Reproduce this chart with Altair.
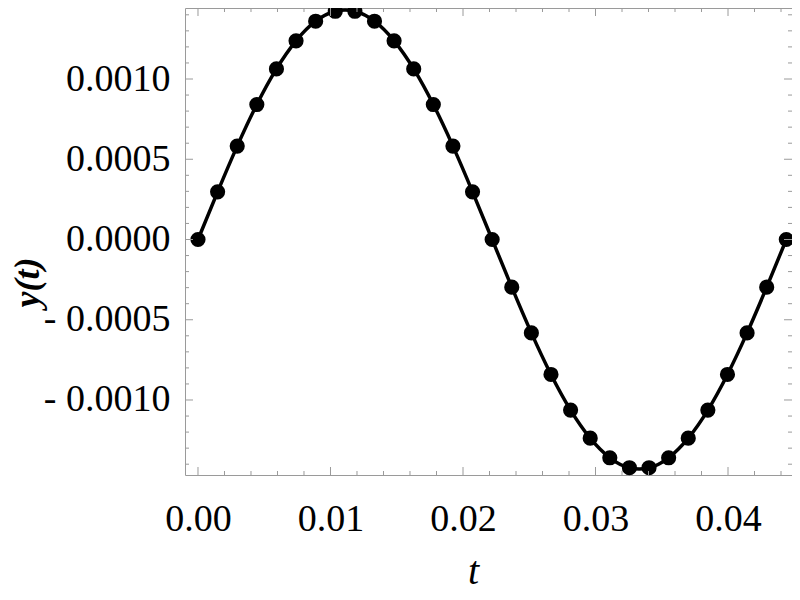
import altair as alt
import pandas as pd

# sampled points of y(t)
t_vals = [0.0, 0.00148, 0.00296, 0.00444, 0.00592, 0.0074, 0.00888, 0.01036,
          0.01184, 0.01332, 0.0148, 0.01628, 0.01776, 0.01924, 0.02072, 0.0222,
          0.02368, 0.02516, 0.02664, 0.02812, 0.0296, 0.03108, 0.03256, 0.03404,
          0.03552, 0.037, 0.03848, 0.03996, 0.04144, 0.04292, 0.0444]
y_vals = [0.0, 0.000297, 0.000582, 0.000841, 0.001063, 0.001238, 0.00136, 0.001422,
          0.001422, 0.00136, 0.001238, 0.001063, 0.000841, 0.000582, 0.000297, 0.0,
          -0.000297, -0.000582, -0.000841, -0.001063, -0.001238, -0.00136, -0.001422,
          -0.001422, -0.00136, -0.001238, -0.001063, -0.000841, -0.000582, -0.000297, 0.0]

x_major = [0.0, 0.01, 0.02, 0.03, 0.04]
x_minor = [0.002, 0.004, 0.006, 0.008, 0.012, 0.014, 0.016, 0.018, 0.022, 0.024,
           0.026, 0.028, 0.032, 0.034, 0.036, 0.038, 0.042, 0.044]
y_major = [-0.001, -0.0005, 0.0, 0.0005, 0.001]
y_minor = [-0.0014, -0.0013, -0.0012, -0.0011, -0.0009, -0.0008, -0.0007, -0.0006,
           -0.0004, -0.0003, -0.0002, -0.0001, 0.0001, 0.0002, 0.0003, 0.0004,
           0.0006, 0.0007, 0.0008, 0.0009, 0.0011, 0.0012, 0.0013, 0.0014]

W, H = 607, 467
FONT = "Liberation Serif"
GRAY = "#9a9a9a"

df = pd.DataFrame({"t": t_vals, "y": y_vals})
xscale = alt.Scale(domain=[-0.000981, 0.04483], nice=False, zero=False)
yscale = alt.Scale(domain=[-0.0014673, 0.0014424], nice=False, zero=False)

xaxis = alt.Axis(values=x_major, format=".2f", ticks=False, domain=False, grid=False,
                 labelFont=FONT, labelFontSize=38, labelColor="black", labelPadding=25,
                 labelFlush=False, labelOverlap=False,
                 title="t", titleFont=FONT, titleFontSize=40, titleFontStyle="italic",
                 titleFontWeight="normal", titleColor="black", titleX=288, titleY=108,
                 titleBaseline="alphabetic", titleAlign="center")
yaxis = alt.Axis(values=y_major, ticks=False, domain=False, grid=False,
                 labelExpr="datum.value < -1e-9 ? '- ' + format(-datum.value, '.4f') : format(abs(datum.value), '.4f')",
                 labelFont=FONT, labelFontSize=38, labelColor="black", labelPadding=15,
                 labelFlush=False, labelOverlap=False,
                 title="y(t)", titleFont=FONT, titleFontSize=36, titleFontStyle="italic",
                 titleFontWeight="bold", titleColor="black", titleAngle=270,
                 titleX=-158, titleY=274, titleBaseline="middle", titleAlign="center")

base = alt.Chart(df)
enc = dict(x=alt.X("t:Q", scale=xscale, axis=xaxis, title="t"),
           y=alt.Y("y:Q", scale=yscale, axis=yaxis, title="y(t)"))
line = base.mark_line(color="black", strokeWidth=3.5, interpolate="natural").encode(**enc)
points = base.mark_circle(color="black", size=230, opacity=1).encode(**enc)


def xticks(vals, y0, y1):
    return alt.Chart(pd.DataFrame({"v": vals})).mark_rule(color=GRAY, strokeWidth=1).encode(
        x=alt.X("v:Q", scale=xscale, axis=xaxis, title="t"), y=alt.value(y0), y2=alt.value(y1))


def yticks(vals, x0, x1):
    return alt.Chart(pd.DataFrame({"v": vals})).mark_rule(color=GRAY, strokeWidth=1).encode(
        y=alt.Y("v:Q", scale=yscale, axis=yaxis, title="y(t)"), x=alt.value(x0), x2=alt.value(x1))


tick_layers = [
    xticks(x_major, H, H - 8), xticks(x_minor, H, H - 4),
    xticks(x_major, 0, 8), xticks(x_minor, 0, 4),
    yticks(y_major, 0, 8), yticks(y_minor, 0, 4),
    yticks(y_major, W, W - 8), yticks(y_minor, W, W - 4),
]

chart = alt.layer(line, points, *tick_layers).properties(
    width=W, height=H,
    autosize=alt.AutoSizeParams(type="none"),
    padding={"left": 177, "top": 0, "right": 0, "bottom": 117},
    background="white",
).configure_view(stroke=GRAY, strokeWidth=1)

chart.save("out.html", embed_options={"renderer": "svg", "actions": False})
